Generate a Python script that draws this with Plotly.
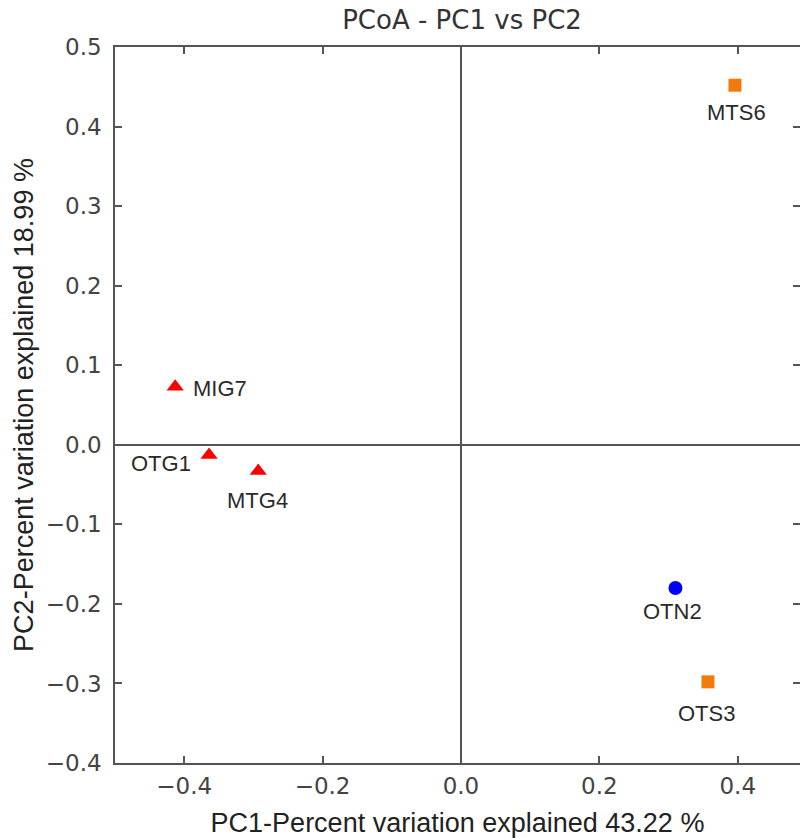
import plotly.graph_objects as go

# ---- data ----
sample_names = ["MTS6", "MIG7", "OTG1", "MTG4", "OTN2", "OTS3"]
pc1_values = [0.396, -0.413, -0.364, -0.293, 0.310, 0.357]
pc2_values = [0.452, 0.073, -0.013, -0.033, -0.180, -0.298]
groups = ["S", "G", "G", "G", "N", "S"]
x_tick_values = [-0.4, -0.2, 0.0, 0.2, 0.4]
y_tick_values = [0.5, 0.4, 0.3, 0.2, 0.1, 0.0, -0.1, -0.2, -0.3, -0.4]

title_text = "PCoA - PC1 vs PC2"
x_title = "PC1-Percent variation explained 43.22 %"
y_title = "PC2-Percent variation explained 18.99 %"

# ---- styles ----
group_style = {
    "G": dict(symbol="triangle-up", color="#ff0000", size=15),
    "S": dict(symbol="square", color="#f27a0c", size=13),
    "N": dict(symbol="circle", color="#0000ff", size=14),
}
# label offsets in screen pixels (dx right, dy down)
label_shift = {
    "MTS6": (2, 27),
    "MIG7": (45, 2),
    "OTG1": (-48, 8),
    "MTG4": (-1, 29),
    "OTN2": (-3, 24),
    "OTS3": (-1, 32),
}

fig = go.Figure()
for g in ["G", "S", "N"]:
    idx = [i for i, gg in enumerate(groups) if gg == g]
    st = group_style[g]
    fig.add_trace(go.Scatter(
        x=[pc1_values[i] for i in idx],
        y=[pc2_values[i] for i in idx],
        mode="markers",
        marker=dict(symbol=st["symbol"], color=st["color"], size=st["size"], line=dict(width=0)),
        showlegend=False,
        hoverinfo="skip",
    ))

for name, xv, yv in zip(sample_names, pc1_values, pc2_values):
    dx, dy = label_shift[name]
    fig.add_annotation(x=xv, y=yv, text=name, showarrow=False,
                       xshift=dx, yshift=-dy,
                       font=dict(family="Liberation Sans", size=22, color="#2a2a2a"))

W, H = 800, 838
axis_font = dict(family="DejaVu Sans", size=23, color="#444444")
fig.update_layout(
    width=W, height=H,
    margin=dict(l=115, r=0, t=47, b=75, autoexpand=False),
    paper_bgcolor="white", plot_bgcolor="white",
    title=dict(text=title_text, x=462 / W, xanchor="center", y=1 - 20 / H, yanchor="middle",
               automargin=False,
               font=dict(family="DejaVu Sans", size=26, color="#333333")),
    xaxis=dict(range=[-0.5, 0.49], tickvals=x_tick_values, tickformat=".1f", automargin=False,
               showline=True, linecolor="#555555", linewidth=1.5, mirror="ticks",
               ticks="inside", ticklen=7, tickwidth=1.5, tickcolor="#555555",
               showgrid=False, zeroline=True, zerolinecolor="#555555", zerolinewidth=1.5,
               tickfont=axis_font, ticklabelstandoff=2,
               title=dict(text=x_title, standoff=23,
                          font=dict(family="Liberation Sans", size=27, color="#222222"))),
    yaxis=dict(range=[-0.4, 0.5], tickvals=y_tick_values, tickformat=".1f", automargin=False,
               showline=True, linecolor="#555555", linewidth=1.5,
               ticks="inside", ticklen=7, tickwidth=1.5, tickcolor="#555555",
               showgrid=False, zeroline=True, zerolinecolor="#555555", zerolinewidth=1.5,
               tickfont=axis_font, ticklabelstandoff=7,
               title=dict(text=y_title, standoff=4,
                          font=dict(family="Liberation Sans", size=27, color="#222222"))),
    yaxis2=dict(range=[-0.4, 0.5], tickvals=y_tick_values, overlaying="y", side="right",
                automargin=False,
                showline=False, ticks="inside", ticklen=7, tickwidth=1.5, tickcolor="#555555",
                showticklabels=False, showgrid=False, zeroline=False),
)
fig.add_trace(go.Scatter(x=[None], y=[None], yaxis="y2", showlegend=False, hoverinfo="skip"))

fig.write_html("out.html", config={"displayModeBar": False},
               post_script="document.body.style.margin='0';document.body.style.overflow='hidden';")
